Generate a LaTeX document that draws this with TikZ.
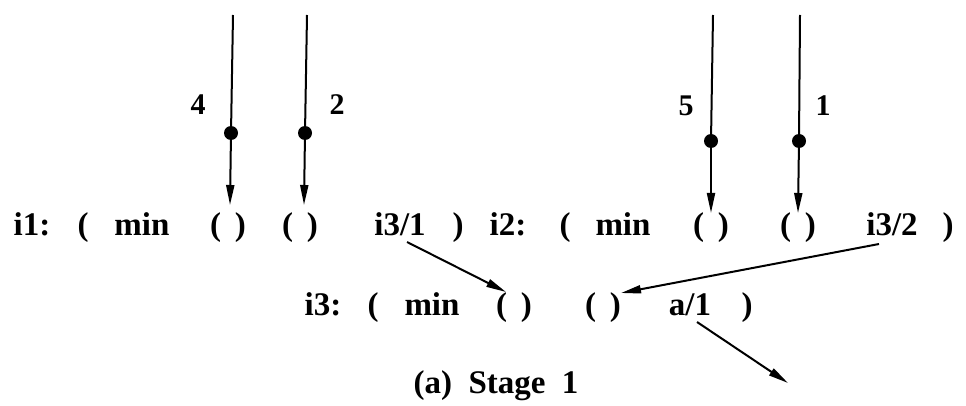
\documentclass[tikz,border=0pt]{standalone}
\usepackage{fontspec}
\setmainfont{Liberation Serif}
\usetikzlibrary{arrows.meta}
\newcommand{\slot}{(\hspace{0.42em})}
\begin{document}
\begin{tikzpicture}[x=1pt,y=-1pt,
  tok/.style={font=\bfseries\fontsize{33}{36}\selectfont, inner sep=0pt, anchor=base},
  lbl/.style={font=\bfseries\fontsize{30}{34}\selectfont, inner sep=0pt},
  wire/.style={line width=2pt},
  edge/.style={line width=2pt, -{Triangle[length=20pt,width=8pt]}},
  dot/.style={circle, fill, inner sep=0pt, minimum size=14pt}]
\useasboundingbox (0,0) rectangle (966,406);

% row 1: i1 and i2
\node[tok] (i1)  at (32,235)  {i1:};
\node[tok] (a1)  at (83,235)  {(};
\node[tok] (m1)  at (142,235) {min};
\node[tok] (p1)  at (228,235) {\slot};
\node[tok] (p2)  at (300,235) {\slot};
\node[tok] (r1)  at (400,235) {i3/1};
\node[tok] (z1)  at (458,235) {)};
\node[tok] (i2)  at (508,235) {i2:};
\node[tok] (a2)  at (565,235) {(};
\node[tok] (m2)  at (623,235) {min};
\node[tok] (p3)  at (711,235) {\slot};
\node[tok] (p4)  at (798,235) {\slot};
\node[tok] (r2)  at (892,235) {i3/2};
\node[tok] (z2)  at (948,235) {)};

% row 2: i3
\node[tok] (i3)  at (323,315) {i3:};
\node[tok] (a3)  at (373,315) {(};
\node[tok] (m3)  at (432,315) {min};
\node[tok] (p5)  at (514,315) {\slot};
\node[tok] (p6)  at (603,315) {\slot};
\node[tok] (r3)  at (690,315) {a/1};
\node[tok] (z3)  at (747,315) {)};

% caption
\node[tok] (cap) at (496,393) {(a)\ \ Stage\ \ 1};

% incoming token lines
\coordinate (t1) at (233,15);
\coordinate (t2) at (307,15);
\coordinate (t3) at (713,15);
\coordinate (t4) at (800,15);
\node[dot] (d1) at (231,133) {};
\node[dot] (d2) at (305,133) {};
\node[dot] (d3) at (711,141) {};
\node[dot] (d4) at (799,141) {};
\draw[wire] (t1) -- (d1);
\draw[wire] (t2) -- (d2);
\draw[wire] (t3) -- (d3);
\draw[wire] (t4) -- (d4);
\draw[edge] (d1) -- ([xshift=2pt,yshift=30pt]p1.base);
\draw[edge] (d2) -- ([xshift=4pt,yshift=30pt]p2.base);
\draw[edge] (d3) -- ([yshift=22pt]p3.base);
\draw[edge] (d4) -- ([yshift=22pt]p4.base);

\node[lbl] (n4) at (198,105) {4};
\node[lbl] (n2) at (337,105) {2};
\node[lbl] (n5) at (686,106) {5};
\node[lbl] (n1) at (823,106) {1};

% result links
\coordinate (out) at (788,383);
\draw[edge] ([xshift=7pt,yshift=-7pt]r1.base) -- ([xshift=-8pt,yshift=23pt]p5.base);
\draw[edge] ([xshift=-13pt,yshift=-9pt]r2.base) -- ([xshift=18pt,yshift=22pt]p6.base);
\draw[edge] ([xshift=7pt,yshift=-7pt]r3.base) -- (out);
\end{tikzpicture}
\end{document}
